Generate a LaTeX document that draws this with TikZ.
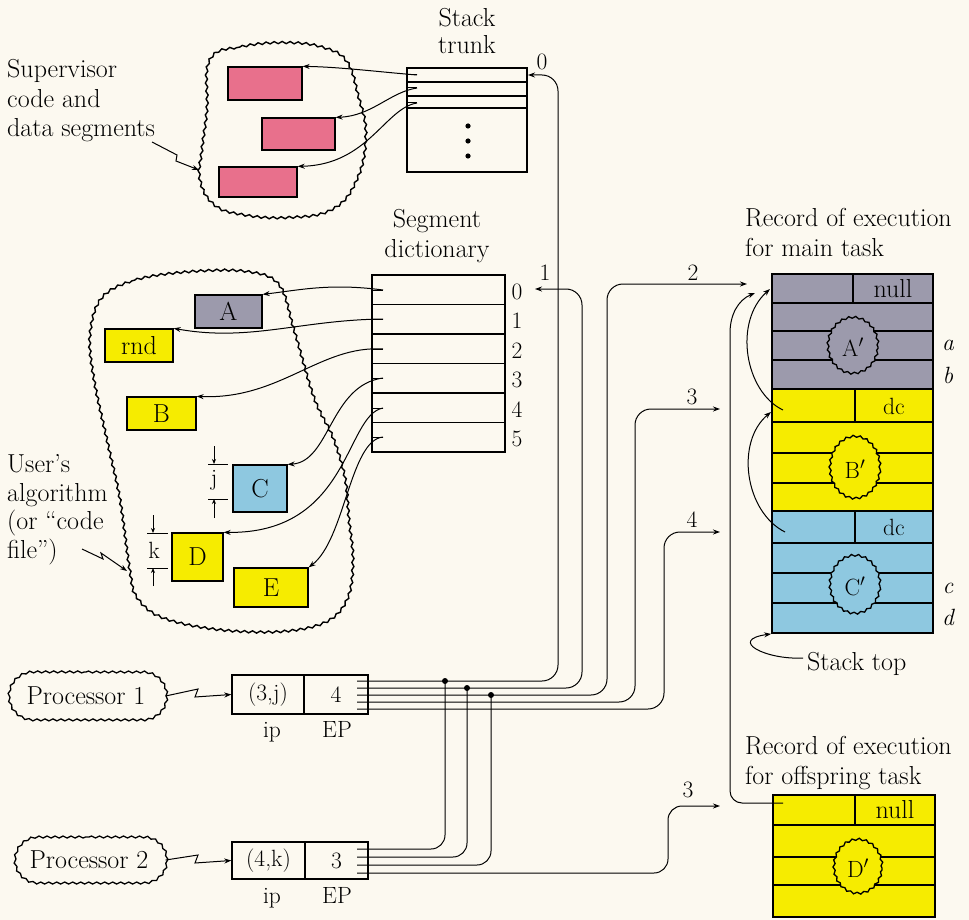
\documentclass[tikz,border=0pt]{standalone}
\usetikzlibrary{arrows.meta,decorations.pathmorphing,shapes.geometric,shapes.misc}
\definecolor{bgcol}{RGB}{252,249,240}
\definecolor{segpink}{RGB}{232,112,140}
\definecolor{seggray}{RGB}{156,154,172}
\definecolor{segyel}{RGB}{246,236,0}
\definecolor{segblue}{RGB}{142,200,224}
\newcommand\bigf{\fontsize{26}{29.5}\selectfont}
\newcommand\midf{\fontsize{23.5}{27}\selectfont}
\begin{document}
\begin{tikzpicture}[x=1pt,y=-1pt, font=\bigf,
  box/.style={draw, line width=1.3pt, inner sep=0pt},
  conn/.style={line width=1pt, -{Stealth[length=7pt,width=5pt]}},
  wire/.style={line width=1pt},
  wavy/.style={decorate, decoration={snake, amplitude=1.1pt, segment length=8pt}, line width=1.4pt},
  smallcloud/.style={draw, ellipse, inner sep=0pt, line width=1.3pt, font=\midf,
     decorate, decoration={snake, amplitude=1pt, segment length=7pt}},
  proccloud/.style={draw, rounded rectangle, inner sep=0pt, line width=1.3pt,
     decorate, decoration={snake, amplitude=1pt, segment length=8pt}},
  lbl/.style={inner sep=0pt},
  dim/.style={line width=0.9pt, -{Stealth[length=5pt,width=4pt]}}]

\fill[bgcol] (0,0) rectangle (969,920);
\useasboundingbox (0,0) rectangle (969,920);

% ---------- clouds ----------
\draw[wavy] plot[smooth cycle, tension=0.7] coordinates {(208,60) (240,47) (285,43) (322,48) (345,62) (356,95) (364,135) (355,180) (330,210) (285,218) (240,215) (212,205) (198,180) (200,150) (205,110)};
\draw[wavy] plot[smooth cycle, tension=0.6] coordinates {(100,298) (135,280) (190,272) (245,272) (277,285) (292,330) (312,398) (331,438) (343,478) (347,520) (351,560) (346,598) (325,622) (280,632) (215,630) (160,618) (135,598) (128,572) (118,500) (106,445) (92,380) (88,335)};

% ---------- labels (base anchor = baseline of last line) ----------
\node[lbl, anchor=base west, align=left] (suplbl) at (7,137) {Supervisor\\code and\\data segments};
\node[lbl, anchor=base west, align=left, font=\fontsize{26}{28.5}\selectfont] (usrlbl) at (7,558) {User's\\algorithm\\(or ``code\\file'')};
\node[lbl, anchor=base, align=center, font=\fontsize{26}{27.5}\selectfont] (trunklbl) at (467,54) {Stack\\trunk};
\node[lbl, anchor=base, align=center] (dictlbl) at (437,257) {Segment\\dictionary};
\node[lbl, anchor=base west, align=left] (mainlbl) at (745,256) {Record of execution\\for main task};
\node[lbl, anchor=base west, align=left] (offlbl) at (745,784) {Record of execution\\for offspring task};

\coordinate (supz) at (152,142);
\coordinate (supcl) at (199,170);
\draw[conn] (supz) -- (177,155) -- (176,161) -- (supcl);
\coordinate (usrz) at (82,549);
\coordinate (usrcl) at (127,571);
\draw[conn] (usrz) -- (103,559) -- (101,553) -- (usrcl);

% ---------- supervisor segments ----------
\node[box, fill=segpink, minimum width=74pt, minimum height=33pt] (s1) at (265,83.5) {};
\node[box, fill=segpink, minimum width=73pt, minimum height=32pt] (s2) at (298.5,134) {};
\node[box, fill=segpink, minimum width=78pt, minimum height=30pt] (s3) at (258,182) {};

% ---------- stack trunk ----------
\node[box, minimum width=120pt, minimum height=104pt] (trunk) at (467,120) {};
\draw[line width=1.3pt] (407,82) -- (527,82) (407,96) -- (527,96) (407,108) -- (527,108);
\foreach \yy in {126,141,156} \fill (468,\yy) circle (2.6);
\coordinate (ts0) at (417,75);
\coordinate (ts1) at (417,88);
\coordinate (ts2) at (417,103);
\draw[wire] (407,75) -- (ts0) (407,88) -- (ts1) (407,103) -- (ts2);
\draw[conn] (ts0) .. controls (380,72) and (340,67) .. (s1.north east);
\draw[conn] (ts1) .. controls (390,92) and (372,116) .. (s2.north east);
\draw[conn] (ts2) .. controls (385,108) and (368,165) .. (s3.north east);

% ---------- user segments ----------
\node[box, fill=seggray, minimum width=67pt, minimum height=33pt] (A) at (228.5,311.5) {A};
\node[box, fill=segyel, minimum width=68pt, minimum height=33pt] (rnd) at (139,345.5) {rnd};
\node[box, fill=segyel, minimum width=69pt, minimum height=33pt] (B) at (161.5,413.5) {B};
\node[box, fill=segblue, minimum width=54pt, minimum height=47pt] (C) at (260,488.5) {C};
\node[box, fill=segyel, minimum width=51pt, minimum height=48pt] (D) at (197.5,557) {D};
\node[box, fill=segyel, minimum width=74pt, minimum height=39pt] (E) at (271,587.5) {E};

% j and k offsets
\draw[line width=0.9pt] (208,464) -- (228,464) (208,499) -- (228,499);
\draw[dim] (214,446) -- (214,464);
\draw[dim] (214,518) -- (214,499);
\node[lbl, font=\midf] (jl) at (214,480) {j};
\draw[line width=0.9pt] (147,533) -- (168,533) (147,568) -- (168,568);
\draw[dim] (153,515) -- (153,533);
\draw[dim] (153,586) -- (153,568);
\node[lbl, font=\midf] (kl) at (154,550) {k};

% ---------- segment dictionary ----------
\node[box, minimum width=133pt, minimum height=177pt] (dict) at (438.5,363.5) {};
\draw[line width=1.3pt] (372,304.5) -- (505,304.5) (372,334) -- (505,334) (372,363.5) -- (505,363.5)
   (372,393) -- (505,393) (372,422.5) -- (505,422.5);
\foreach \i/\yy in {0/290,1/319,2/349,3/378,4/408,5/437} {
  \node[lbl, font=\midf] (di\i) at (517,\yy+2) {\i};
  \coordinate (ds\i) at (383,\yy);
  \draw[wire] (372,\yy) -- (ds\i);
}
\draw[conn] (ds0) .. controls (330,283) and (300,290) .. (A.north east);
\draw[conn] (ds1) .. controls (300,320) and (250,342) .. (rnd.north east);
\draw[conn] (ds2) .. controls (320,345) and (280,400) .. (B.north east);
\draw[conn] (ds3) .. controls (330,385) and (330,462) .. (C.north east);
\draw[conn] (ds4) .. controls (345,415) and (350,534) .. (D.north east);
\draw[conn] (ds5) .. controls (350,440) and (345,540) .. (E.north east);

% ---------- processors ----------
\node[proccloud, minimum width=158pt, minimum height=48pt] (pc1) at (86,696) {Processor 1};
\node[proccloud, minimum width=152pt, minimum height=46pt] (pc2) at (89,860) {Processor 2};
\node[box, font=\midf, minimum width=72pt, minimum height=39pt] (p1ip) at (268,694.5) {(3,j)};
\node[box, font=\midf, minimum width=64pt, minimum height=39pt] (p1ep) at (336,694.5) {4};
\node[box, font=\midf, minimum width=73pt, minimum height=37pt] (p2ip) at (268.5,860.5) {(4,k)};
\node[box, font=\midf, minimum width=63pt, minimum height=37pt] (p2ep) at (336.5,860.5) {3};
\node[lbl, font=\midf, anchor=base] (ip1) at (272,737) {ip};
\node[lbl, font=\midf, anchor=base] (ep1) at (337,737) {EP};
\node[lbl, font=\midf, anchor=base] (ip2) at (272,903) {ip};
\node[lbl, font=\midf, anchor=base] (ep2) at (337,903) {EP};
\draw[conn] (pc1.east) -- (198,689) -- (195,697) -- (p1ip.west);
\draw[conn] (pc2.east) -- (198,855) -- (195,863) -- (p2ip.west);

% ---------- main task record ----------
\node[box, line width=1.8pt, fill=seggray, minimum width=161pt, minimum height=115pt] (recA) at (852.5,331.5) {};
\node[box, line width=1.8pt, fill=segyel, minimum width=161pt, minimum height=122pt] (recB) at (852.5,450) {};
\node[box, line width=1.8pt, fill=segblue, minimum width=161pt, minimum height=122pt] (recC) at (852.5,572) {};
\draw[line width=1.4pt] (772,303) -- (933,303) (772,331) -- (933,331) (772,360) -- (933,360) (853,274) -- (853,303);
\draw[line width=1.4pt] (772,422) -- (933,422) (772,453) -- (933,453) (772,483) -- (933,483) (855,389) -- (855,422);
\draw[line width=1.4pt] (772,543) -- (933,543) (772,573) -- (933,573) (772,603) -- (933,603) (855,511) -- (855,543);
\node[smallcloud, fill=seggray, minimum width=50pt, minimum height=56pt] (cA) at (853,347) {A$'$};
\node[smallcloud, fill=segyel, minimum width=50pt, minimum height=62pt] (cB) at (855,469) {B$'$};
\node[smallcloud, fill=segblue, minimum width=50pt, minimum height=58pt] (cC) at (855,586) {C$'$};
\node[lbl] (nullA) at (893,289) {null};
\node[lbl, font=\midf] (dcB) at (894,406) {dc};
\node[lbl, font=\midf] (dcC) at (894,527) {dc};
\node[lbl, font=\midf\itshape] (la) at (948,345) {a};
\node[lbl, font=\midf\itshape] (lb) at (948,375) {b};
\node[lbl, font=\midf\itshape] (lc) at (948,588) {c};
\node[lbl, font=\midf\itshape] (ld) at (948,617) {d};

% ---------- offspring record ----------
\node[box, line width=1.8pt, fill=segyel, minimum width=162pt, minimum height=122pt] (recD) at (854,856) {};
\draw[line width=1.4pt] (773,825) -- (935,825) (773,857) -- (935,857) (773,885) -- (935,885) (855,795) -- (855,825);
\node[smallcloud, fill=segyel, minimum width=48pt, minimum height=54pt] (cD) at (858,868) {D$'$};
\node[lbl] (nullD) at (895,810) {null};

% record links
\coordinate (bLink) at (783,410);
\coordinate (cLink) at (785,532);
\coordinate (dLink) at (783,803);
\coordinate (aTop1) at (770,289);
\coordinate (aTop2) at (755,293);
\coordinate (bTop) at (771,412);
\draw[conn] (bLink) .. controls (745,392) and (733,322) .. (aTop1);
\draw[conn] (cLink) .. controls (745,512) and (735,442) .. (bTop);
\draw[conn, rounded corners=12pt] (dLink) -- (730,803) -- (730,345) .. controls (730,315) and (738,300) .. (aTop2);

\node[lbl, anchor=base west] (stoplbl) at (807,670) {Stack top};
\coordinate (stopz) at (803,658);
\draw[conn] (stopz) .. controls (765,660) and (728,640) .. (recC.south west);

% ---------- register wires ----------
\coordinate (trunkin) at (528,75);
\coordinate (dictin) at (535,289);
\coordinate (e2) at (747,284);
\coordinate (e3) at (720,409);
\coordinate (e4) at (720,532);
\coordinate (e5) at (720,806);
\draw[conn, rounded corners=16pt] (357,681) -- (558,681) -- (558,75) -- (trunkin);
\draw[conn, rounded corners=16pt] (357,688) -- (582,688) -- (582,289) -- (dictin);
\draw[conn, rounded corners=16pt] (357,695) -- (607,695) -- (607,284) -- (e2);
\draw[conn, rounded corners=16pt] (357,702) -- (635,702) -- (635,409) -- (e3);
\draw[conn, rounded corners=16pt] (357,709) -- (664,709) -- (664,532) -- (e4);
\draw[wire, rounded corners=14pt] (357,849) -- (445,849) -- (445,681);
\draw[wire, rounded corners=14pt] (357,857) -- (467,857) -- (467,688);
\draw[wire, rounded corners=14pt] (357,865) -- (491,865) -- (491,695);
\draw[conn, rounded corners=14pt] (357,873) -- (668,873) -- (668,806) -- (e5);
\fill (445,681) circle (3) (467,688) circle (3) (491,695) circle (3);

\node[lbl, font=\midf] (n0) at (542,62) {0};
\node[lbl, font=\midf] (n1) at (545,273) {1};
\node[lbl, font=\midf] (n2) at (693,273) {2};
\node[lbl, font=\midf] (n3) at (692,397) {3};
\node[lbl, font=\midf] (n4) at (692,520) {4};
\node[lbl, font=\midf] (n5) at (688,790) {3};
\end{tikzpicture}
\end{document}
